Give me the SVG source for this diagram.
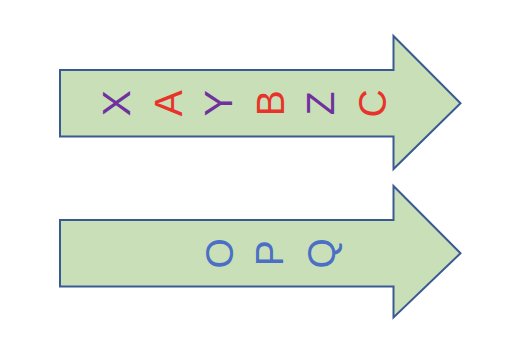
<svg xmlns="http://www.w3.org/2000/svg" width="505" height="348" viewBox="0 0 505 348">
<style>
.arrow{fill:#C9DFB8;stroke:#3A5A94;stroke-width:2;stroke-linejoin:miter}
.t{font-family:"Liberation Sans",Arial,sans-serif;font-size:39px;text-anchor:middle}
.p{fill:#7030A0}.r{fill:#E8332A}.b{fill:#4A6FC4}
</style>
<rect width="505" height="348" fill="#fff"/>
<g id="arrow1">
<polygon class="arrow" points="60,70 393.5,70 393.5,36 460.5,103.3 393.5,169 393.5,136.5 60,136.5"/>
<text class="t p" transform="translate(130.3,103.3) rotate(-90)">X</text>
<text class="t r" transform="translate(182.3,103.3) rotate(-90)">A</text>
<text class="t p" transform="translate(232,103.3) rotate(-90)">Y</text>
<text class="t r" transform="translate(284,103.3) rotate(-90)">B</text>
<text class="t p" transform="translate(334,103.3) rotate(-90)">Z</text>
<text class="t r" transform="translate(386,103.3) rotate(-90)">C</text>
</g>
<g id="arrow2">
<polygon class="arrow" points="60,220 393.5,220 393.5,186 460.5,253.3 393.5,317.5 393.5,286.5 60,286.5"/>
<text class="t b" transform="translate(233.3,253.3) rotate(-90)">O</text>
<text class="t b" transform="translate(282.7,253.3) rotate(-90)">P</text>
<text class="t b" transform="translate(334.7,253.3) rotate(-90)">Q</text>
</g>
<g id="connectors"/>
</svg>
